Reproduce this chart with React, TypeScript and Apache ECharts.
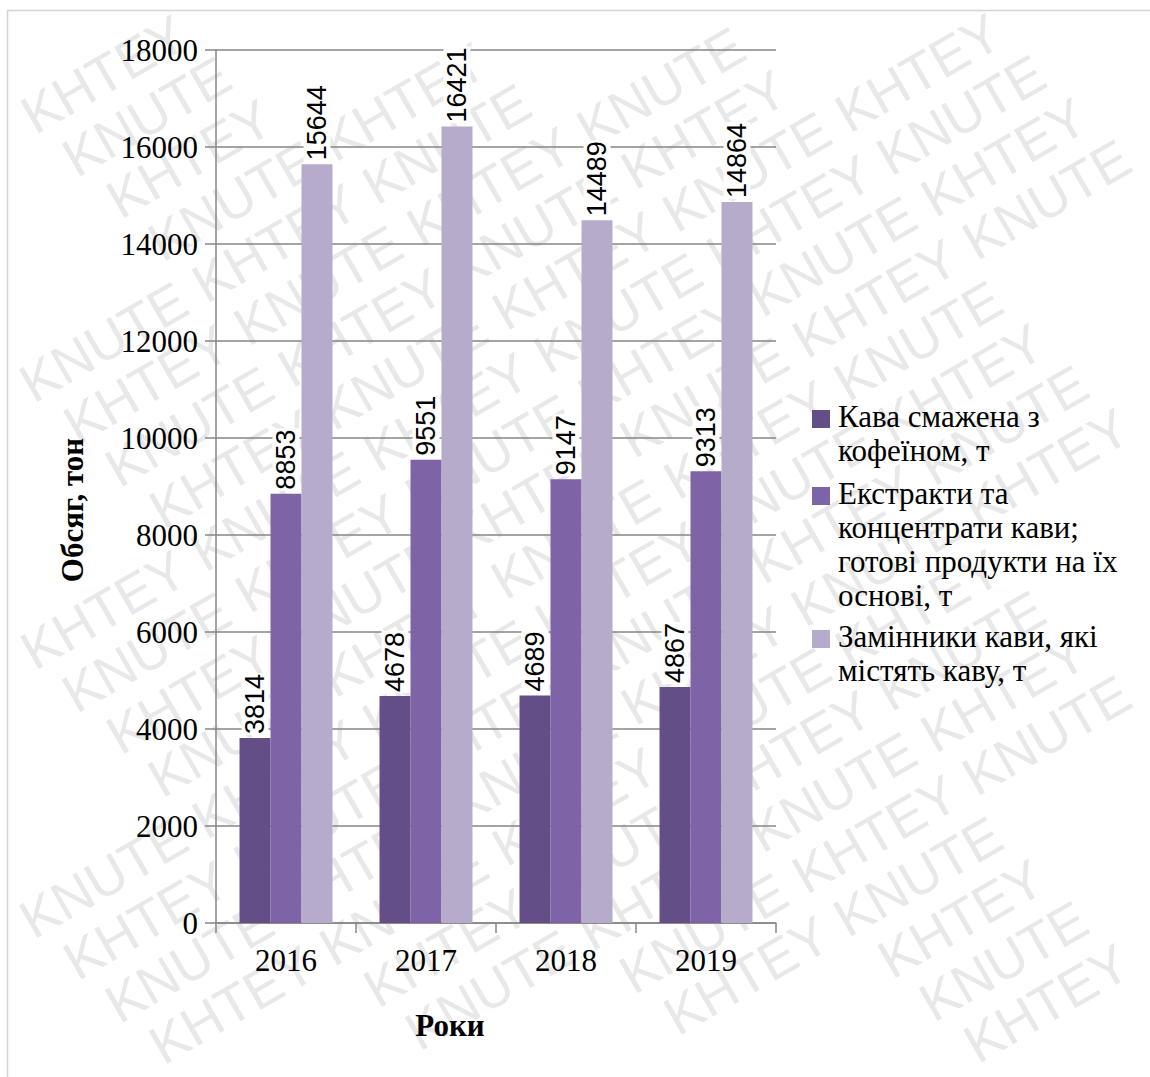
import React, { useEffect, useRef } from "react";
import * as echarts from "echarts";

const categories = ["2016", "2017", "2018", "2019"];
const seriesNames = [
  "Кава смажена з кофеїном, т",
  "Екстракти та концентрати кави; готові продукти на їх основі, т",
  "Замінники кави, які містять каву, т",
];
const legendLines = [
  ["Кава смажена з", "кофеїном, т"],
  ["Екстракти та", "концентрати кави;", "готові продукти на їх", "основі, т"],
  ["Замінники кави, які", "містять каву, т"],
];
const roastedCoffee = [3814, 4678, 4689, 4867];
const extracts = [8853, 9551, 9147, 9313];
const substitutes = [15644, 16421, 14489, 14864];
const seriesValues = [roastedCoffee, extracts, substitutes];
const colors = ["#634E87", "#7E63A6", "#B7ABCB"];
const yAxisTitle = "Обсяг, тон";
const xAxisTitle = "Роки";
const watermarkWords = ["KNUTE", "KHTEY"];

const W = 1150;
const H = 1077;

function makeWatermark(): any[] {
  const out: any[] = [];
  const ang = Math.PI / 6;
  const dir = [Math.cos(ang), -Math.sin(ang)];
  const perp = [Math.sin(ang), Math.cos(ang)];
  const stride = 198;
  const rowStep = 58;
  const rowShift = 16;
  const cx = W / 2;
  const cy = H / 2;
  const hx = 92 * Math.cos(ang) + 20 * Math.sin(ang);
  const hy = 92 * Math.sin(ang) + 20 * Math.cos(ang);
  for (let k = -16; k <= 16; k++) {
    for (let j = -8; j <= 8; j++) {
      const u = j * stride + k * rowShift;
      const v = k * rowStep;
      const x = cx + u * dir[0] + v * perp[0];
      const y = cy + u * dir[1] + v * perp[1];
      if (x < hx + 1 || x > W - hx - 1 || y < hy + 1 || y > H - hy - 1) continue;
      out.push({
        type: "text",
        x,
        y,
        rotation: ang,
        silent: true,
        z: -10,
        style: {
          text: watermarkWords[(((j + k) % 2) + 2) % 2],
          fill: "#e8e8e8",
          fontFamily: "Liberation Sans",
          fontSize: 54,
          align: "center",
          verticalAlign: "middle",
        },
      });
    }
  }
  return out;
}

export default function App() {
  const ref = useRef<HTMLDivElement>(null);
  useEffect(() => {
    document.body.style.margin = "0";
    const chart = echarts.init(ref.current!, null, { renderer: "svg" });

    const legendGraphics: any[] = [];
    const legendTops = [401, 478, 621];
    seriesNames.forEach((_, i) => {
      legendGraphics.push({
        type: "rect",
        shape: { x: 812, y: legendTops[i] + 9, width: 18, height: 18 },
        style: { fill: colors[i] },
        z: 20,
      });
      legendLines[i].forEach((line, li) => {
        legendGraphics.push({
          type: "text",
          x: 838,
          y: legendTops[i] + li * 34,
          z: 20,
          style: {
            text: line,
            font: "31px 'Liberation Serif'",
            fill: "#000",
            verticalAlign: "top",
          },
        });
      });
    });

    chart.setOption({
      animation: false,
      backgroundColor: "#fff",
      grid: { left: 216, right: 374, top: 50, bottom: 154, containLabel: false },
      xAxis: {
        type: "category",
        data: categories,
        axisLine: { lineStyle: { color: "#868686", width: 1.5 } },
        axisTick: { show: true, length: 10, alignWithLabel: false, lineStyle: { color: "#868686", width: 1.5 } },
        axisLabel: { color: "#000", fontFamily: "Liberation Serif", fontSize: 31, margin: 22 },
        splitLine: { show: false },
      },
      yAxis: {
        type: "value",
        min: 0,
        max: 18000,
        interval: 2000,
        axisLine: { show: true, lineStyle: { color: "#868686", width: 1.5 } },
        axisTick: { show: true, length: 11, lineStyle: { color: "#868686", width: 1.5 } },
        axisLabel: {
          color: "#000",
          fontFamily: "Liberation Serif",
          fontSize: 31,
          margin: 18,
          formatter: (v: number) => String(v),
        },
        splitLine: { show: true, lineStyle: { color: "#868686", width: 1.5 } },
      },
      series: seriesNames.map((name, i) => ({
        name,
        type: "bar",
        data: seriesValues[i],
        barGap: "0%",
        barCategoryGap: "33.6%",
        z: 3,
        itemStyle: { color: colors[i] },
        label: {
          show: true,
          position: "top",
          rotate: 90,
          align: "left",
          verticalAlign: "middle",
          distance: 3,
          color: "#000",
          fontFamily: "Liberation Sans",
          fontSize: 27,
          backgroundColor: "#fff",
          padding: [0, 1, 0, 1],
        },
      })),
      graphic: [
        {
          type: "group",
          silent: true,
          z: -10,
          children: makeWatermark(),
        },
        {
          type: "rect",
          z: -5,
          silent: true,
          shape: { x: 7.5, y: 10.5, width: 1160, height: 1080 },
          style: { fill: "none", stroke: "#d4d4d4", lineWidth: 1.5 },
        },
        {
          type: "text",
          x: 72,
          y: 510,
          rotation: Math.PI / 2,
          z: 20,
          style: {
            text: yAxisTitle,
            font: "bold 31px 'Liberation Serif'",
            fill: "#000",
            align: "center",
            verticalAlign: "middle",
          },
        },
        {
          type: "text",
          x: 450,
          y: 1025,
          z: 20,
          style: {
            text: xAxisTitle,
            font: "bold 31px 'Liberation Serif'",
            fill: "#000",
            align: "center",
            verticalAlign: "middle",
          },
        },
        ...legendGraphics,
      ],
    });
    return () => chart.dispose();
  }, []);
  return <div ref={ref} style={{ width: W, height: H }} />;
}
